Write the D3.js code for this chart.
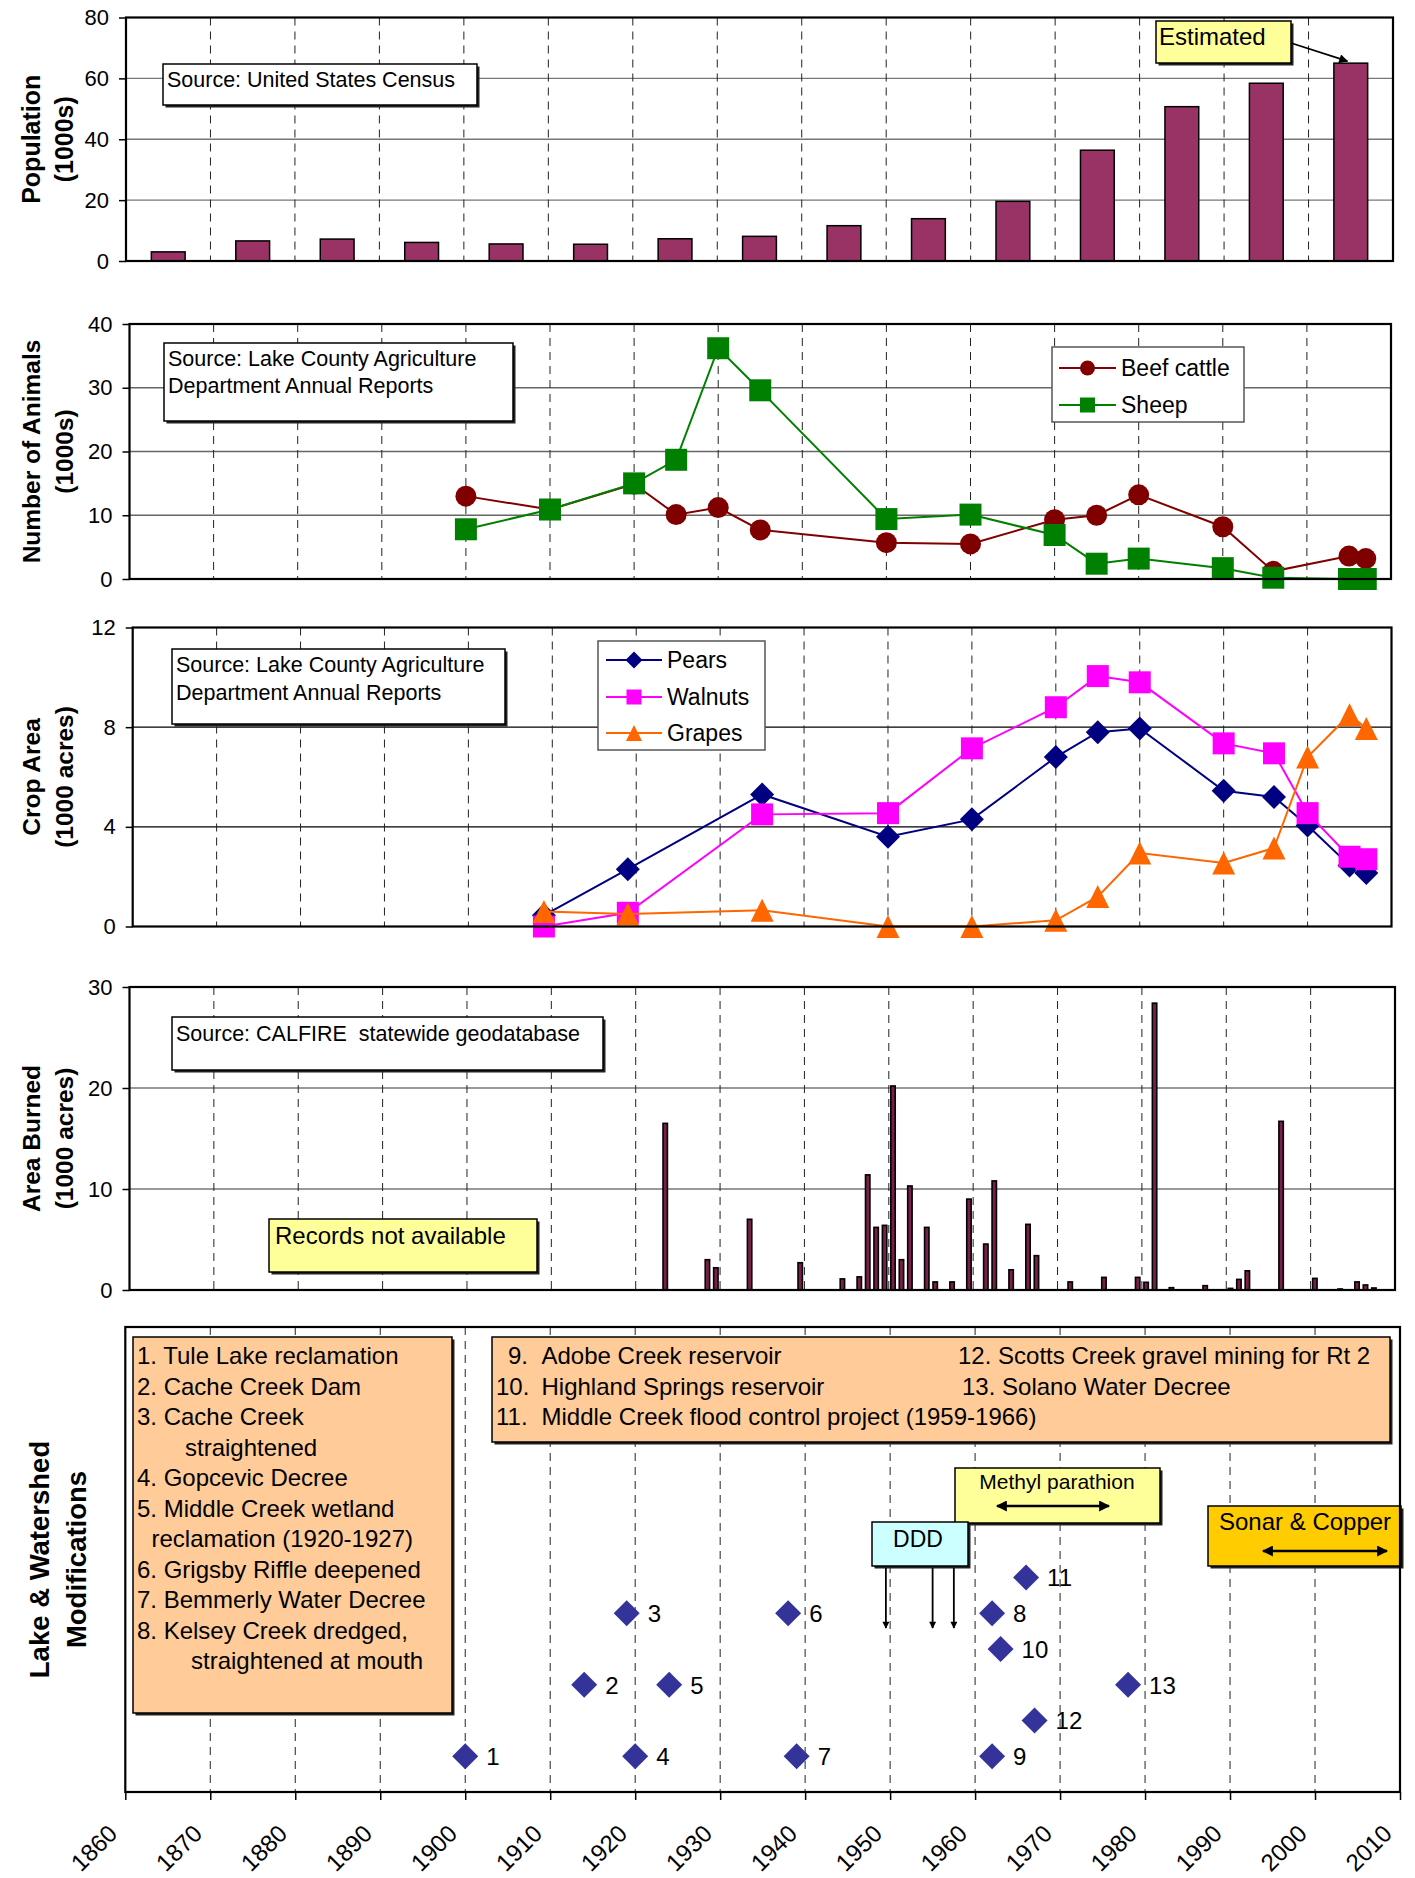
<!DOCTYPE html>
<html><head><meta charset="utf-8">
<script src="https://cdn.jsdelivr.net/npm/d3@7"></script>
<style>body{margin:0;background:#fff;}svg{display:block;}</style>
</head><body>
<script>
// ---------------- DATA ----------------
const popCategories = ["1870","1880","1890","1900","1910","1920","1930","1940","1950","1960","1970","1980","1990","2000","2005"];
const popValues = [3.0,6.6,7.2,6.1,5.6,5.5,7.3,8.1,11.6,13.9,19.6,36.4,50.7,58.4,65.0];
const popTicks = [0,20,40,60,80];

const animalYears = [1900,1910,1920,1925,1930,1935,1950,1960,1970,1975,1980,1990,1996,2005,2007];
const beefCattle = [13.0,10.9,14.9,10.1,11.2,7.7,5.7,5.5,9.3,10.0,13.2,8.2,1.2,3.6,3.2];
const sheep = [7.8,10.9,15.0,18.7,36.2,29.6,9.4,10.1,6.9,2.4,3.2,1.7,0.2,0.0,0.0];
const animalTicks = [0,10,20,30,40];

const cropYears = [1909,1919,1935,1950,1960,1970,1975,1980,1990,1996,2000,2005,2007];
const pears = [0.45,2.3,5.3,3.6,4.3,6.8,7.8,7.95,5.45,5.2,4.05,2.45,2.15];
const walnuts = [0.0,0.55,4.5,4.55,7.15,8.8,10.05,9.8,7.35,6.95,4.55,2.8,2.7];
const grapes = [0.6,0.5,0.65,0.0,0.0,0.25,1.2,2.95,2.55,3.15,6.8,8.5,7.95];
const cropTicks = [0,4,8,12];

const fireYears = [1923,1928,1929,1933,1939,1944,1946,1947,1948,1949,1950,1951,1952,1954,1955,1957,1959,1961,1962,1964,1966,1967,1971,1975,1979,1980,1981,1983,1987,1990,1991,1992,1996,2000,2003,2005,2006,2007];
const fireArea = [16.5,3.0,2.2,7.0,2.7,1.1,1.3,11.4,6.2,6.4,20.2,3.0,10.3,6.2,0.8,0.8,9.0,4.55,10.8,2.0,6.5,3.4,0.8,1.25,1.25,0.76,28.4,0.23,0.43,0.16,1.05,1.9,16.7,1.15,0.1,0.8,0.5,0.2];
const fireTicks = [0,10,20,30];

const modLabels = ["1","2","3","4","5","6","7","8","9","10","11","12","13"];
const modYears = [1900,1914,1919,1920,1924,1938,1939,1962,1962,1963,1966,1967,1978];
const modRows = [1,3,5,1,3,5,1,5,1,4,6,2,3];
const dddYears = [1949.5,1955,1957.5];

const axisYears = [1860,1870,1880,1890,1900,1910,1920,1930,1940,1950,1960,1970,1980,1990,2000,2010];
const gridYears = [1870,1880,1890,1900,1910,1920,1930,1940,1950,1960,1970,1980,1990,2000];

const modListLeft = [
  ["1. Tule Lake reclamation",0],["2. Cache Creek Dam",0],["3. Cache Creek",0],["straightened",1],
  ["4. Gopcevic Decree",0],["5. Middle Creek wetland",0],["reclamation (1920-1927)",2],
  ["6. Grigsby Riffle deepened",0],["7. Bemmerly Water Decree",0],["8. Kelsey Creek dredged,",0],
  ["straightened at mouth",3]
];
const modListRightNums = ["9.","10.","11."];
const modListRightText = ["Adobe Creek reservoir","Highland Springs reservoir","Middle Creek flood control project (1959-1966)"];
const modListRight2 = ["12. Scotts Creek gravel mining for Rt 2","13. Solano Water Decree"];

// ---------------- SETUP ----------------
const FONT='"Liberation Sans", Arial, Helvetica, sans-serif';
const svg=d3.select("body").append("svg").attr("width",1415).attr("height",1878).attr("font-family",FONT);
svg.append("rect").attr("width",1415).attr("height",1878).attr("fill","#fff");
const defs=svg.append("defs");
function arrowMarker(id,len,wid){
  defs.append("marker").attr("id",id).attr("viewBox","0 0 10 10").attr("refX",9).attr("refY",5)
    .attr("markerUnits","userSpaceOnUse").attr("markerWidth",len).attr("markerHeight",wid)
    .attr("orient","auto-start-reverse").append("path").attr("d","M0,0L10,5L0,10z").attr("fill","#000");
}
arrowMarker("ahBig",13,11); arrowMarker("ahMid",12,9); arrowMarker("ahSmall",11,7);

const P = {
  pop:{l:126,r:1393,t:17.5,b:261},
  ani:{l:129.5,r:1391,t:324,b:579},
  crop:{l:132.7,r:1391.5,t:627.5,b:926.5},
  fire:{l:129.5,r:1395,t:987,b:1290},
  mod:{l:125.3,r:1400,t:1327,b:1792}
};

const shapes={
  circle:r=>`M${-r},0a${r},${r} 0 1,0 ${2*r},0a${r},${r} 0 1,0 ${-2*r},0Z`,
  square:r=>`M${-r},${-r}H${r}V${r}H${-r}Z`,
  diamond:r=>`M0,${-r}L${r},0L0,${r}L${-r},0Z`,
  triangle:r=>`M0,${-r}L${r},${r}L${-r},${r}Z`
};

function base(p,ymax,ticks,gridColor){
  const g=svg.append("g");
  const x=d3.scaleLinear().domain([1860,2010]).range([p.l,p.r]);
  const y=d3.scaleLinear().domain([0,ymax]).range([p.b,p.t]);
  g.append("rect").attr("x",p.l).attr("y",p.t).attr("width",p.r-p.l).attr("height",p.b-p.t).attr("fill","#fff");
  g.selectAll(".gl").data(ticks.filter(t=>t>0&&t<ymax)).join("line")
    .attr("x1",p.l).attr("x2",p.r).attr("y1",d=>y(d)).attr("y2",d=>y(d))
    .attr("stroke",gridColor).attr("stroke-width",1.3);
  g.selectAll(".dl").data(gridYears).join("line")
    .attr("x1",d=>x(d)).attr("x2",d=>x(d)).attr("y1",p.t).attr("y2",p.b)
    .attr("stroke","#222").attr("stroke-width",1).attr("stroke-dasharray","8,6");
  return {g,x,y};
}
function finish(p,y,ticks,titles,size,tx,noAxis){
  svg.append("rect").attr("x",p.l).attr("y",p.t).attr("width",p.r-p.l).attr("height",p.b-p.t)
    .attr("fill","none").attr("stroke","#000").attr("stroke-width",2.2);
  if(!noAxis){
    const ax=d3.axisLeft(y).tickValues(ticks).tickSize(7).tickPadding(10).tickSizeOuter(0);
    const ga=svg.append("g").attr("transform",`translate(${p.l},0)`).call(ax)
      .attr("font-family",FONT).attr("font-size",22);
    ga.select(".domain").remove();
    ga.selectAll("line").attr("stroke","#000").attr("stroke-width",1.5);
    ga.selectAll("text").attr("fill","#000");
  }
  const yc=(p.t+p.b)/2;
  titles.forEach((t,i)=>{
    svg.append("text").attr("transform",`translate(${tx[i]},${yc}) rotate(-90)`)
      .attr("text-anchor","middle").attr("font-weight","bold").attr("font-size",size).text(t);
  });
}
function box(x0,y0,x1,y1,fill,shadow){
  if(shadow) svg.append("rect").attr("x",x0+2.5).attr("y",y0+2.5).attr("width",x1-x0).attr("height",y1-y0).attr("fill","#222");
  svg.append("rect").attr("x",x0).attr("y",y0).attr("width",x1-x0).attr("height",y1-y0)
    .attr("fill",fill).attr("stroke","#000").attr("stroke-width",1.5);
}
function label(x,y,t,size,opts={}){
  const e=svg.append("text").attr("x",x).attr("y",y).attr("font-size",size).attr("fill","#000")
    .style("white-space","pre").text(t);
  if(opts.anchor) e.attr("text-anchor",opts.anchor);
  return e;
}
function series(g,x,y,xs,vals,color,shape,r){
  g.append("path").datum(vals.map((v,i)=>[xs[i],v]))
    .attr("d",d3.line().x(d=>x(d[0])).y(d=>y(d[1]))).attr("fill","none").attr("stroke",color).attr("stroke-width",2);
  g.selectAll(null).data(vals.map((v,i)=>[xs[i],v])).join("path")
    .attr("transform",d=>`translate(${x(d[0])},${y(d[1])})`).attr("d",shapes[shape](r)).attr("fill",color);
}
function legend(x0,y0,x1,y1,items,lx0,lx1,tx){
  svg.append("rect").attr("x",x0).attr("y",y0).attr("width",x1-x0).attr("height",y1-y0)
    .attr("fill","#fff").attr("stroke","#555").attr("stroke-width",1.5);
  items.forEach(it=>{
    svg.append("line").attr("x1",lx0).attr("x2",lx1).attr("y1",it.y).attr("y2",it.y).attr("stroke",it.color).attr("stroke-width",2);
    svg.append("path").attr("transform",`translate(${(lx0+lx1)/2},${it.y})`).attr("d",shapes[it.shape](it.r)).attr("fill",it.color);
    label(tx,it.y+8,it.name,23);
  });
}

// ---------------- PANEL 1: Population ----------------
{
  const p=P.pop;
  const {g,y}=base(p,80,popTicks,"#777");
  const xb=d3.scaleBand().domain(popCategories).range([p.l,p.r]).paddingInner(0.6).paddingOuter(0.3);
  g.selectAll(".bar").data(popValues).join("rect")
    .attr("x",(d,i)=>xb(popCategories[i])).attr("width",xb.bandwidth())
    .attr("y",d=>y(d)).attr("height",d=>y(0)-y(d))
    .attr("fill","#993366").attr("stroke","#000").attr("stroke-width",1.5);
  box(163,64,477,105,"#fff",true);
  label(167,87,"Source: United States Census",21.5);
  box(1156,21,1291,63,"#FFFF99",true);
  label(1159,45,"Estimated",24);
  const last=popCategories.length-1;
  svg.append("line").attr("x1",1291).attr("y1",43)
    .attr("x2",xb(popCategories[last])+xb.bandwidth()*0.4).attr("y2",y(popValues[last])-2)
    .attr("stroke","#000").attr("stroke-width",1.8).attr("marker-end","url(#ahMid)");
  finish(p,y,popTicks,["Population","(1000s)"],25,[40,72.5]);
}

// ---------------- PANEL 2: Animals ----------------
{
  const p=P.ani;
  const {g,x,y}=base(p,40,animalTicks,"#666");
  series(g,x,y,animalYears,beefCattle,"#800000","circle",10.5);
  series(g,x,y,animalYears,sheep,"#008000","square",11);
  box(164,343,513,421,"#fff",true);
  label(168,366,"Source: Lake County Agriculture",21.5);
  label(168,393,"Department Annual Reports",21.5);
  legend(1052,347,1244,422,[
    {name:"Beef cattle",color:"#800000",shape:"circle",r:7.5,y:368},
    {name:"Sheep",color:"#008000",shape:"square",r:7.5,y:405}],1059,1116,1121);
  finish(p,y,animalTicks,["Number of Animals","(1000s)"],24.5,[40,72.5]);
}

// ---------------- PANEL 3: Crops ----------------
{
  const p=P.crop;
  const {g,x,y}=base(p,12,cropTicks,"#000");
  series(g,x,y,cropYears,pears,"#000080","diamond",12);
  series(g,x,y,cropYears,walnuts,"#FF00FF","square",11);
  series(g,x,y,cropYears,grapes,"#FF6600","triangle",11.5);
  box(172,649,505,724,"#fff",true);
  label(176,672,"Source: Lake County Agriculture",21.5);
  label(176,700,"Department Annual Reports",21.5);
  legend(598,641,765,750,[
    {name:"Pears",color:"#000080",shape:"diamond",r:8.5,y:660},
    {name:"Walnuts",color:"#FF00FF",shape:"square",r:7.5,y:697},
    {name:"Grapes",color:"#FF6600",shape:"triangle",r:8,y:733}],606,662,667);
  finish(p,y,cropTicks,["Crop Area","(1000 acres)"],24.5,[40,72.5]);
}

// ---------------- PANEL 4: Fire ----------------
{
  const p=P.fire;
  const {g,x,y}=base(p,30,fireTicks,"#777");
  g.selectAll(".fb").data(fireArea).join("rect")
    .attr("x",(d,i)=>x(fireYears[i]+0.5)-2.2).attr("width",4.4)
    .attr("y",d=>y(d)).attr("height",d=>y(0)-y(d))
    .attr("fill","#7a1f4a").attr("stroke","#000").attr("stroke-width",1.6);
  box(172,1017,603,1070,"#fff",true);
  label(176,1041,"Source: CALFIRE  statewide geodatabase",21.5);
  box(269,1219,537,1272,"#FFFF99",true);
  label(275,1244,"Records not available",24);
  finish(p,y,fireTicks,["Area Burned","(1000 acres)"],24.5,[40,72.5]);
}

// ---------------- PANEL 5: Modifications ----------------
{
  const p=P.mod;
  const {g,x}=base(p,13,[],"#777");
  const y=d3.scaleLinear().domain([0,13]).range([p.b,p.t]);
  box(133,1337,452,1713,"#FFCC99",true);
  const indents=[137,185,151.5,191];
  modListLeft.forEach((d,i)=>label(indents[d[1]],1364+i*30.5,d[0],24));
  box(492,1337,1390,1442,"#FFCC99",true);
  const numX=[508,496,496];
  modListRightNums.forEach((t,i)=>label(numX[i],1364+i*30.5,t,24));
  modListRightText.forEach((t,i)=>label(541.5,1364+i*30.5,t,24));
  label(958,1364,modListRight2[0],24);
  label(962,1394.5,modListRight2[1],24);
  box(955,1468,1160,1523,"#FFFF99",true);
  label(1057,1489,"Methyl parathion",21,{anchor:"middle"});
  svg.append("line").attr("x1",997).attr("x2",1109).attr("y1",1506).attr("y2",1506)
    .attr("stroke","#000").attr("stroke-width",2.5).attr("marker-start","url(#ahBig)").attr("marker-end","url(#ahBig)");
  box(1208,1506,1401,1566,"#FFCC00",true);
  label(1219,1530,"Sonar & Copper",24);
  svg.append("line").attr("x1",1263).attr("x2",1387).attr("y1",1551).attr("y2",1551)
    .attr("stroke","#000").attr("stroke-width",2.5).attr("marker-start","url(#ahBig)").attr("marker-end","url(#ahBig)");
  box(872,1522,968,1566,"#CCFFFF",true);
  label(918,1547,"DDD",23,{anchor:"middle"});
  svg.selectAll(".ddd").data(dddYears).join("line")
    .attr("x1",d=>x(d)).attr("x2",d=>x(d)).attr("y1",1568).attr("y2",1628)
    .attr("stroke","#000").attr("stroke-width",1.8).attr("marker-end","url(#ahSmall)");
  svg.selectAll(".md").data(modYears).join("path")
    .attr("transform",(d,i)=>`translate(${x(d)},${y(modRows[i])})`)
    .attr("d",shapes.diamond(13)).attr("fill","#333399");
  modLabels.forEach((t,i)=>label(x(modYears[i])+21,y(modRows[i])+9,t,24));
  finish(p,y,[],["Lake & Watershed","Modifications"],27.5,[48.5,85.5],true);
  const xa=d3.axisBottom(x).tickValues(axisYears).tickFormat(d3.format("d")).tickSize(8).tickSizeOuter(0);
  const ga=svg.append("g").attr("transform",`translate(0,${p.b})`).call(xa)
    .attr("font-family",FONT).attr("font-size",24);
  ga.select(".domain").remove();
  ga.selectAll("line").attr("stroke","#000").attr("stroke-width",1.5);
  ga.selectAll("text").attr("fill","#000").attr("text-anchor","end").attr("dy",null)
    .attr("x",-7).attr("y",43).attr("transform","rotate(-45,-7,43)");
}
</script>
</body></html>
